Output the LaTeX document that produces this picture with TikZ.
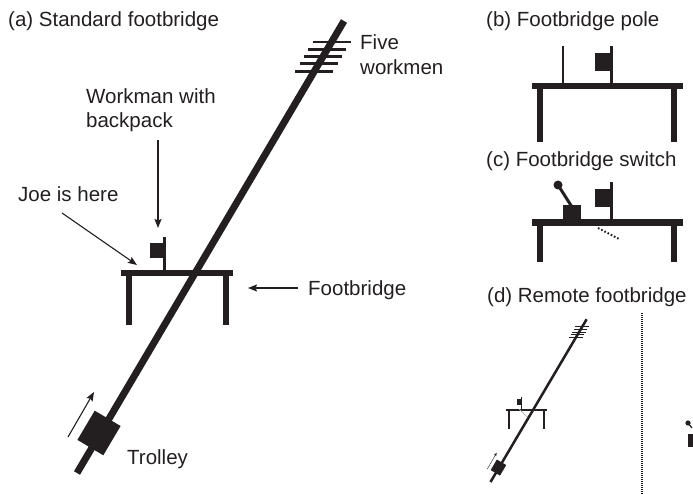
\documentclass[tikz,border=0pt]{standalone}
\usepackage{fontspec}
\setmainfont{Liberation Sans}
\usetikzlibrary{arrows.meta}
\definecolor{ink}{HTML}{231F20}
\tikzset{
  lbl/.style={anchor=base west, inner sep=0pt, font=\fontsize{20.5}{24}\selectfont, text=ink},
  ptr/.style={draw=ink, line width=1.1pt, -{Stealth[length=9pt,width=7pt,inset=1.5pt]}},
  railline/.style={draw=ink, line width=7pt},
  hatch/.style={draw=ink, line width=2.8pt},
  slab/.style={fill=ink},
  poleline/.style={draw=ink, line width=3pt},
  thinpole/.style={draw=ink, line width=2pt},
  dotline/.style={draw=ink, line width=2pt, dash pattern=on 1.6pt off 2pt},
  sepline/.style={draw=ink, line width=1.2pt, dash pattern=on 1pt off 1pt}
}
\newcommand{\footscene}{%
  \draw[railline] (344,21) -- (77,473);
  \foreach \i in {0,...,4}{%
    \pgfmathsetmacro{\yy}{42+7.3*\i}%
    \pgfmathsetmacro{\xx}{344-0.59*(\yy-21)}%
    \draw[hatch] ({\xx-19},\yy) -- ({\xx+19},\yy);}
  \fill[slab] (121,270) rectangle (233,276);
  \fill[slab] (126,276) rectangle (132,325);
  \fill[slab] (222.5,276) rectangle (228.5,325);
  \draw[poleline] (164,237) -- (164,270);
  \fill[slab] (150,243) rectangle (163,258);
  \fill[slab] (120.6,426.0) -- (94.7,410.7) -- (77.4,439.9) -- (103.3,455.3) -- cycle;
  \coordinate (tarrA) at (68,437);
  \coordinate (tarrB) at (94,392);
  \draw[ptr] (tarrA) -- (tarrB);
}
\begin{document}
\begin{tikzpicture}[x=1pt,y=-1pt]
\useasboundingbox (0,0) rectangle (693,494);

% (a) standard footbridge
\node[lbl] (titleA) at (8,27) {(a) Standard footbridge};
\footscene
\node[lbl] (five) at (360,50) {Five};
\node[lbl] (workmen) at (360,75) {workmen};
\node[lbl] (wm1) at (86,104) {Workman with};
\node[lbl] (wm2) at (86,128) {backpack};
\node[lbl] (joe) at (18,202) {Joe is here};
\node[lbl] (fblabel) at (308,295) {Footbridge};
\node[lbl] (trolley) at (127,464) {Trolley};
\coordinate (wmtail) at (158,140);
\coordinate (wmtip) at (158,228);
\draw[ptr] (wmtail) -- (wmtip);
\coordinate (joetail) at (62,213);
\coordinate (joetip) at (137,265);
\draw[ptr] (joetail) -- (joetip);
\coordinate (fbtail) at (298,288);
\coordinate (fbtip) at (248,288);
\draw[ptr] (fbtail) -- (fbtip);

% (b) footbridge pole
\node[lbl] (titleB) at (486,27) {(b) Footbridge pole};
\fill[slab] (532,83) rectangle (683,89);
\fill[slab] (537,89) rectangle (543,142);
\fill[slab] (671,89) rectangle (677,142);
\draw[thinpole] (563,46) -- (563,83);
\draw[poleline] (611,46) -- (611,83);
\fill[slab] (595,53) rectangle (609.5,71);

% (c) footbridge switch
\node[lbl] (titleC) at (486,167) {(c) Footbridge switch};
\fill[slab] (532,219) rectangle (683,226);
\fill[slab] (537,226) rectangle (543,262);
\fill[slab] (671,226) rectangle (677,262);
\fill[slab] (563,205) rectangle (581,219);
\draw[poleline] (572,207) -- (558,185);
\fill[ink] (558,185) circle (4.5);
\draw[poleline] (611,182) -- (611,219);
\fill[slab] (595,189) rectangle (609.5,207);
\draw[dotline] (598,228) -- (619,239);

% (d) remote footbridge
\node[lbl] (titleD) at (487,302) {(d) Remote footbridge};
\begin{scope}[transform canvas={shift={(462.8,311.7)},scale=0.36}]
  \footscene
\end{scope}
\draw[gray!60, line width=0.7pt] (519,409) -- (527,417);
\draw[sepline] (642,313) -- (642,494);
\fill[ink] (688,423) circle (2.6);
\draw[ink, line width=1.2pt] (688,423) -- (692,428);
\fill[slab] (688,434) rectangle (694,447);
\end{tikzpicture}
\end{document}
